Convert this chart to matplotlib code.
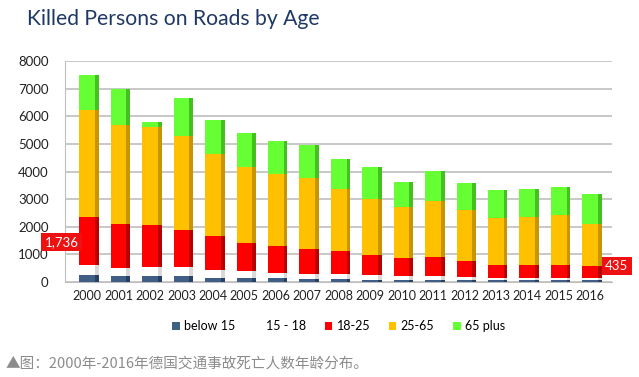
import numpy as np
import matplotlib.pyplot as plt
from matplotlib.patches import Patch

plt.rcParams['font.family'] = ['Lato', 'DejaVu Sans']

# data
years = [str(y) for y in range(2000, 2017)]
below_15 = [240, 220, 220, 220, 150, 140, 130, 110, 100, 90, 90, 90, 80, 70, 70, 70, 60]
age_15_18 = [360, 290, 320, 320, 270, 250, 210, 190, 200, 180, 130, 130, 100, 80, 80, 80, 75]
age_18_25 = [1736, 1600, 1540, 1360, 1250, 1040, 950, 910, 820, 720, 650, 690, 580, 450, 480, 450, 435]
age_25_65 = [3900, 3590, 3540, 3390, 2950, 2740, 2610, 2560, 2260, 2030, 1850, 2030, 1840, 1700, 1730, 1820, 1540]
age_65_plus = [1267, 1300, 180, 1360, 1240, 1210, 1200, 1180, 1090, 1150, 910, 1070, 1000, 1020, 1000, 1020, 1060]

series = [below_15, age_15_18, age_18_25, age_25_65, age_65_plus]
labels = ['below 15', '15 - 18', '18-25', '25-65', '65 plus']
front = ['#3f5f86', '#ffffff', '#ff0000', '#ffc000', '#66ff33']
side = ['#2a4060', '#d9d9d9', '#b80000', '#c89400', '#44c020']

fig = plt.figure(figsize=(6.39, 3.77), dpi=100)
ax = fig.add_axes([0.102, 0.252, 0.856, 0.586])

x = np.arange(len(years))
w = 0.5
sw = 0.12
bottom = np.zeros(len(years))
for vals, c, sc in zip(series, front, side):
    vals = np.array(vals)
    ax.bar(x, vals, w, bottom=bottom, color=c, zorder=3, linewidth=0)
    ax.bar(x + w / 2 + sw / 2, vals, sw, bottom=bottom, color=sc, zorder=3, linewidth=0)
    bottom += vals

ax.set_xlim(-0.7, 16.7)
ax.set_ylim(0, 8000)
ax.set_yticks(range(0, 8001, 1000))
ax.set_xticks(x)
ax.set_xticklabels(years)
ax.tick_params(axis='both', length=0, labelsize=9, colors='#222222', pad=6)
ax.tick_params(axis='y', labelsize=9.5, pad=12)
ax.grid(axis='y', color='#bfbfbf', linewidth=1.2, zorder=0)
for s in ['top', 'right']:
    ax.spines[s].set_visible(False)
ax.spines['left'].set_color('#bfbfbf')
ax.spines['bottom'].set_color('#bfbfbf')

# value labels
ax.text(-0.82, 1450, '1,736', color='white', fontsize=9.5, ha='center', va='center',
        bbox=dict(boxstyle='square,pad=0.25', fc='#ee1111', ec='none'), clip_on=False, zorder=5)
ax.text(16.85, 580, '435', color='white', fontsize=9.5, ha='center', va='center',
        bbox=dict(boxstyle='square,pad=0.25', fc='#ee1111', ec='none'), clip_on=False, zorder=5)

fig.text(0.042, 0.95, 'Killed Persons on Roads by Age', fontsize=15.2, color='#1f3864',
         ha='left', va='center')

handles = [Patch(facecolor=c, edgecolor='none') for c in front]
fig.legend(handles, labels, loc='center', bbox_to_anchor=(0.53, 0.135), ncol=5,
           frameon=False, fontsize=9, handlelength=0.6, handleheight=0.6,
           handletextpad=0.35, columnspacing=1.5)

fig.text(0.008, 0.035, '▲图：2000年-2016年德国交通事故死亡人数年龄分布。', fontsize=10.5,
         color='#8c8c8c', ha='left', va='center',
         family=['Noto Sans CJK SC', 'DejaVu Sans'])

fig.savefig('out.png', dpi=100)
